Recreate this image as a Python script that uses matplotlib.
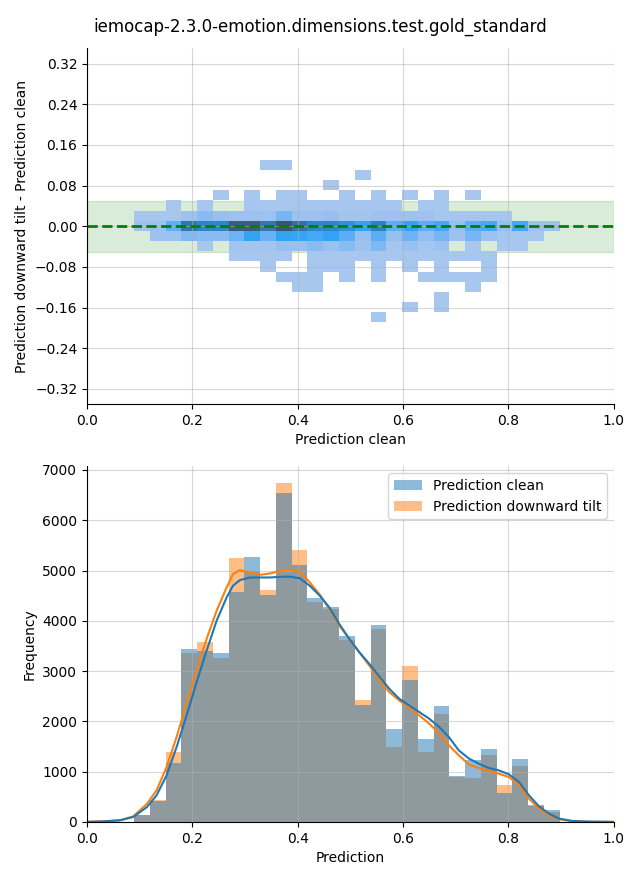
"""Recreate the gold-standard downward-tilt comparison figure as out.png."""

import math

import matplotlib

matplotlib.use("Agg")
import matplotlib.pyplot as plt
import numpy as np
from matplotlib.colors import ListedColormap, to_rgb
from matplotlib.patches import Patch


TITLE = "iemocap-2.3.0-emotion.dimensions.test.gold_standard"

# prediction bins shared by both panels (27 bins)
BIN_LO, BIN_HI, N_BINS = 0.0894, 0.8972, 27

clean_counts = [130, 410, 1170, 3440, 3405, 3350, 4577, 5270, 4517, 6541, 5112, 4458, 4280, 3690,
                2335, 3922, 1839, 2831, 1640, 2315, 913, 1224, 1442, 575, 1243, 330, 231]
tilt_counts = [130, 430, 1400, 3366, 3585, 3267, 5251, 4993, 4616, 6739, 5410, 4365, 4239, 3611,
               2427, 3843, 1481, 3108, 1382, 2156, 900, 873, 1323, 728, 1111, 320, 205]

# kde curves
kde_x = [0.0, 0.03, 0.063, 0.088, 0.114, 0.132, 0.151, 0.170, 0.189, 0.208, 0.227, 0.246, 0.265,
         0.277, 0.290, 0.309, 0.328, 0.347, 0.366, 0.385, 0.404, 0.423, 0.442, 0.460, 0.479, 0.498,
         0.517, 0.536, 0.555, 0.574, 0.593, 0.612, 0.631, 0.650, 0.669, 0.687, 0.706, 0.725, 0.744,
         0.763, 0.782, 0.801, 0.820, 0.839, 0.858, 0.877, 0.896, 0.921, 0.952, 0.993, 1.0]
kde_clean = [2, 10, 33, 99, 298, 529, 926, 1488, 2116, 2778, 3406, 4001, 4464,
             4696, 4808, 4861, 4861, 4861, 4874, 4878, 4845, 4696, 4497, 4266, 3935, 3638,
             3373, 3142, 2890, 2646, 2447, 2315, 2183, 2051, 1885, 1687, 1420, 1260, 1157,
             1071, 1025, 946, 794, 529, 311, 165, 66, 20, 7, 2, 1]
kde_tilt = [2, 10, 33, 112, 364, 628, 1091, 1687, 2348, 3009, 3638, 4200, 4663,
            4927, 5007, 4960, 4914, 4940, 4993, 5015, 4977, 4762, 4517, 4233, 3902, 3638,
            3373, 3108, 2824, 2579, 2414, 2269, 2116, 1951, 1753, 1521, 1323, 1140, 1071,
            1012, 959, 893, 728, 463, 265, 132, 53, 13, 3, 1, 0]

# difference bins: 16 rows of width 0.02, bottom edge at -0.189
DIFF_LO, DIFF_STEP = -0.189, 0.02
# counts per cell, top row (diff ~ +0.12) first, one column per prediction bin
diff_counts = [
    [0, 0, 0, 0, 0, 0, 0, 0, 70, 70, 0, 0, 0, 0, 0, 0, 0, 0, 0, 0, 0, 0, 0, 0, 0, 0, 0],
    [0, 0, 0, 0, 0, 0, 0, 0, 0, 0, 0, 0, 0, 0, 70, 0, 0, 0, 0, 0, 0, 0, 0, 0, 0, 0, 0],
    [0, 0, 0, 0, 0, 0, 0, 0, 0, 0, 0, 0, 70, 0, 0, 0, 0, 0, 0, 0, 0, 0, 0, 0, 0, 0, 0],
    [0, 0, 0, 0, 0, 70, 0, 70, 0, 70, 70, 0, 0, 70, 0, 70, 0, 70, 0, 70, 0, 70, 0, 0, 0, 0, 0],
    [0, 0, 70, 0, 70, 0, 0, 100, 70, 70, 90, 90, 90, 90, 90, 90, 90, 0, 70, 70, 0, 0, 0, 0, 0, 0, 0],
    [70, 70, 70, 210, 455, 280, 210, 210, 210, 630, 210, 210, 280, 140, 140, 210, 210, 210, 210, 100,
     100, 100, 100, 70, 0, 0, 0],
    [210, 210, 860, 2480, 2030, 2030, 3290, 3290, 2450, 3500, 2660, 2030, 2030, 1645, 1225, 2170, 875,
     1225, 875, 1050, 300, 875, 1050, 300, 1050, 210, 210],
    [0, 210, 210, 560, 455, 455, 735, 1225, 770, 1225, 1150, 1050, 1225, 875, 280, 875, 280, 735, 350,
     630, 210, 630, 210, 100, 70, 70, 0],
    [0, 0, 0, 0, 70, 0, 140, 140, 140, 300, 250, 455, 250, 455, 210, 560, 100, 250, 100, 210, 0, 70, 0,
     70, 70, 0, 0],
    [0, 0, 0, 0, 0, 0, 70, 70, 70, 70, 0, 70, 70, 70, 70, 70, 70, 70, 70, 70, 70, 70, 70, 0, 0, 0, 0],
    [0, 0, 0, 0, 0, 0, 0, 0, 70, 0, 0, 70, 70, 70, 0, 70, 0, 70, 0, 70, 0, 0, 70, 0, 0, 0, 0],
    [0, 0, 0, 0, 0, 0, 0, 0, 0, 70, 70, 70, 0, 70, 0, 70, 0, 0, 70, 70, 70, 70, 70, 0, 0, 0, 0],
    [0, 0, 0, 0, 0, 0, 0, 0, 0, 0, 70, 70, 0, 0, 0, 0, 0, 0, 0, 0, 0, 70, 0, 0, 0, 0, 0],
    [0, 0, 0, 0, 0, 0, 0, 0, 0, 0, 0, 0, 0, 0, 0, 0, 0, 0, 0, 70, 0, 0, 0, 0, 0, 0, 0],
    [0, 0, 0, 0, 0, 0, 0, 0, 0, 0, 0, 0, 0, 0, 0, 0, 0, 70, 0, 70, 0, 0, 0, 0, 0, 0, 0],
    [0, 0, 0, 0, 0, 0, 0, 0, 0, 0, 0, 0, 0, 0, 0, 70, 0, 0, 0, 0, 0, 0, 0, 0, 0, 0, 0],
]


# --- husl helpers, enough to rebuild seaborn's single-colour ramp ---
M = [[3.2406, -1.5372, -0.4986], [-0.9689, 1.8758, 0.0415], [0.0557, -0.2040, 1.0570]]
M_INV = [[0.4124, 0.3576, 0.1805], [0.2126, 0.7152, 0.0722], [0.0193, 0.1192, 0.9505]]
REF_U, REF_V, LAB_E, LAB_K = 0.19784, 0.46834, 0.008856, 903.3


def max_chroma(L, H):
    sin_h, cos_h = math.sin(math.radians(H)), math.cos(math.radians(H))
    sub1 = (L + 16) ** 3 / 1560896.0
    sub2 = sub1 if sub1 > LAB_E else L / LAB_K
    best = float("inf")
    for m1, m2, m3 in M:
        top = (0.99915 * m1 + 1.05122 * m2 + 1.14460 * m3) * sub2
        bottom = ((0.86330 * m3 - 0.17266 * m2) * sin_h + (0.12949 * m3 - 0.38848 * m1) * cos_h) * sub2
        for t in (0.0, 1.0):
            c = L * (top - 1.05122 * t) / (bottom + 0.17266 * sin_h * t)
            if 0.0 < c < best:
                best = c
    return best


def rgb_to_husl(rgb):
    lin = [((c + 0.055) / 1.055) ** 2.4 if c > 0.04045 else c / 12.92 for c in rgb]
    X, Y, Z = (sum(a * b for a, b in zip(row, lin)) for row in M_INV)
    den = X + 15 * Y + 3 * Z
    L = 116 * (Y ** (1 / 3) if Y > LAB_E else 7.787 * Y + 16 / 116) - 16
    U, V = 13 * L * (4 * X / den - REF_U), 13 * L * (9 * Y / den - REF_V)
    H = math.degrees(math.atan2(V, U)) % 360
    return H, math.hypot(U, V) / max_chroma(L, H) * 100


def husl_to_rgb(H, S, L):
    C = max_chroma(L, H) / 100 * S
    U, V = C * math.cos(math.radians(H)), C * math.sin(math.radians(H))
    t = (L + 16) / 116
    Y = t ** 3 if t ** 3 > LAB_E else (116 * t - 16) / LAB_K
    var_u, var_v = U / (13 * L) + REF_U, V / (13 * L) + REF_V
    X = -(9 * Y * var_u) / ((var_u - 4) * var_v - var_u * var_v)
    Z = (9 * Y - 15 * var_v * Y - var_v * X) / (3 * var_v)
    out = []
    for row in M:
        c = row[0] * X + row[1] * Y + row[2] * Z
        out.append(12.92 * c if c <= 0.0031308 else 1.055 * c ** (1 / 2.4) - 0.055)
    return np.clip(out, 0, 1)


def seed_cmap(color):
    h, s = rgb_to_husl(to_rgb(color))
    xx = np.linspace(-1, 1, int(1.15 * 256))[:256]
    lum = np.linspace(35, 80, 256)
    colors = [husl_to_rgb(h, s * math.cos(x), l) for x, l in zip(xx, lum)]
    return ListedColormap(colors[::-1])


fig, (ax1, ax2) = plt.subplots(2, 1, figsize=(6.4, 8.8))
fig.subplots_adjust(left=0.136, right=0.959, top=0.945, bottom=0.066, hspace=0.174)
fig.suptitle(TITLE)

x_edges = np.linspace(BIN_LO, BIN_HI, N_BINS + 1)
y_edges = DIFF_LO + DIFF_STEP * np.arange(len(diff_counts) + 1)
heights = np.ma.masked_less_equal(np.array(diff_counts[::-1], dtype=float), 0)

ax1.axhspan(-0.05, 0.05, color="green", alpha=0.15, zorder=0)
ax1.pcolormesh(x_edges, y_edges, heights, cmap=seed_cmap("C0"), vmin=0, vmax=heights.max())
ax1.axhline(0, color="green", linestyle="--", linewidth=2)
ax1.set_xlim(0, 1)
ax1.set_ylim(-0.35, 0.35)
ax1.set_yticks(np.round(np.arange(-0.32, 0.33, 0.08), 2))
ax1.set_xlabel("Prediction clean")
ax1.set_ylabel("Prediction downward tilt - Prediction clean")

# seaborn draws the last hue first, so the tilt series sits underneath
widths = np.diff(x_edges)
ax2.bar(x_edges[:-1], tilt_counts, width=widths, align="edge", color="C1", alpha=0.5, linewidth=0)
ax2.bar(x_edges[:-1], clean_counts, width=widths, align="edge", color="C0", alpha=0.5, linewidth=0)
ax2.plot(kde_x, kde_tilt, color="C1", linewidth=1.5)
ax2.plot(kde_x, kde_clean, color="C0", linewidth=1.5)
ax2.set_xlim(0, 1)
ax2.set_xlabel("Prediction")
ax2.set_ylabel("Frequency")
ax2.legend(handles=[Patch(facecolor="C0", alpha=0.5, linewidth=0, label="Prediction clean"),
                    Patch(facecolor="C1", alpha=0.5, linewidth=0, label="Prediction downward tilt")],
           loc="upper right")

for ax in (ax1, ax2):
    ax.grid(alpha=0.5)
    ax.spines[["top", "right"]].set_visible(False)

fig.savefig("out.png", dpi=100)
